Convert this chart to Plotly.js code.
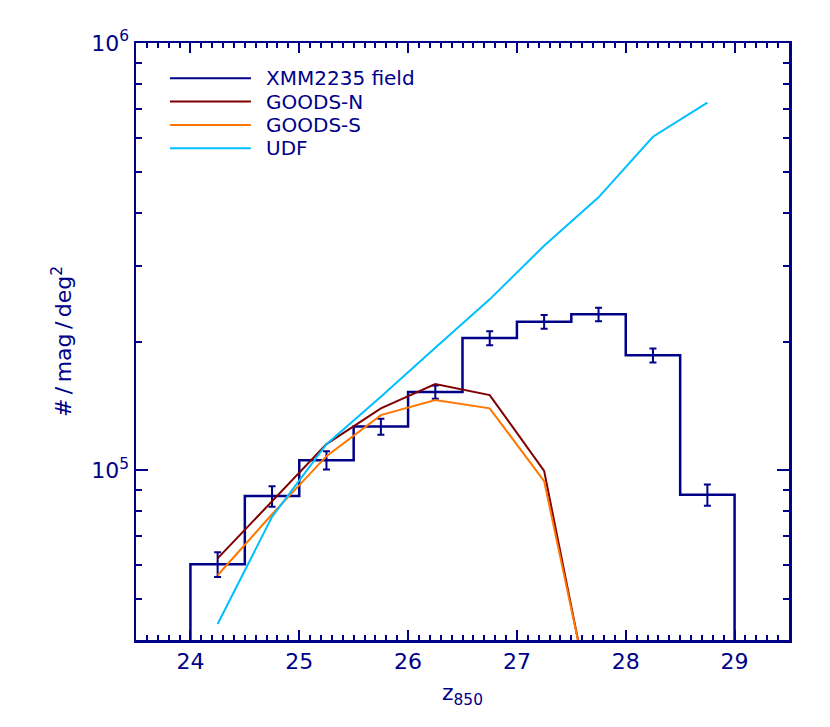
<!DOCTYPE html>
<html>
<head>
<meta charset="utf-8">
<script src="https://cdn.plot.ly/plotly-3.0.1.min.js"></script>
<style>html,body{margin:0;padding:0;background:#fff;}#chart{width:830px;height:727px;}</style>
</head>
<body>
<div id="chart"></div>
<script>
// ---- data ----
var binCenters = [24.25, 24.75, 25.25, 25.75, 26.25, 26.75, 27.25, 27.75, 28.25, 28.75];
var xmmCounts  = [60200, 86900, 105500, 126400, 152300, 203700, 222500, 231500, 185600, 87500];
var xmmErrors  = [4000, 4800, 5200, 5500, 5400, 7800, 8200, 8500, 7100, 5000];

var modelMags  = [24.25, 24.75, 25.25, 25.75, 26.25, 26.75, 27.25, 27.75];
var goodsN     = [62100, 84300, 115000, 139500, 159000, 149800, 99600, 23000];
var goodsS     = [56700, 78800, 107800, 134500, 145800, 139500, 94200, 23700];

var udfMags    = [24.25, 24.75, 25.25, 25.75, 26.25, 26.75, 27.25, 27.75, 28.25, 28.75];
var udf        = [43600, 77700, 115000, 148500, 193400, 251000, 335200, 435100, 603300, 724800];

var seriesNames = ["XMM2235 field", "GOODS-N", "GOODS-S", "UDF"];
var xTickVals = [24, 25, 26, 27, 28, 29];
var yTickVals = [1e5, 1e6];
var yTickText = ["10<sup>5</sup>", "10<sup>6</sup>"];

// ---- styles ----
var NAVY = "#000088", BROWN = "#800000", ORANGE = "#FF7700", SKY = "#00BFFF";
var colors = [NAVY, BROWN, ORANGE, SKY];
var FONT = "DejaVu Sans";
var binHalf = 0.25, floorVal = 1000;

// histogram outline built from bin edges
var hx = [binCenters[0] - binHalf], hy = [floorVal];
binCenters.forEach(function (c, i) { hx.push(c - binHalf); hy.push(xmmCounts[i]); });
hx.push(binCenters[binCenters.length - 1] + binHalf); hy.push(xmmCounts[xmmCounts.length - 1]);
hx.push(binCenters[binCenters.length - 1] + binHalf); hy.push(floorVal);

var traces = [
  {x: hx, y: hy, mode: "lines", line: {shape: "hv", color: NAVY, width: 2.5},
   name: seriesNames[0], showlegend: false, hoverinfo: "skip"},
  {x: binCenters, y: xmmCounts, mode: "markers", marker: {size: 1, color: NAVY, opacity: 0},
   error_y: {type: "data", array: xmmErrors, visible: true, color: NAVY, thickness: 2, width: 3.5},
   name: seriesNames[0] + " errors", showlegend: false},
  {x: modelMags, y: goodsN, mode: "lines", line: {color: BROWN, width: 2}, name: seriesNames[1], showlegend: false},
  {x: modelMags, y: goodsS, mode: "lines", line: {color: ORANGE, width: 2}, name: seriesNames[2], showlegend: false},
  {x: udfMags, y: udf, mode: "lines", line: {color: SKY, width: 2}, name: seriesNames[3], showlegend: false}
];

// manual legend (line samples + labels) in paper coordinates
var legY = [0.941, 0.902, 0.8625, 0.8235];
var shapes = [], annotations = [];
seriesNames.forEach(function (n, i) {
  shapes.push({type: "line", xref: "paper", yref: "paper", x0: 0.052, x1: 0.176, y0: legY[i], y1: legY[i],
               line: {color: colors[i], width: 2}});
  annotations.push({xref: "paper", yref: "paper", x: 0.197, y: legY[i], xanchor: "left", yanchor: "middle",
                    text: n, showarrow: false, borderpad: 0,
                    font: {family: FONT, size: 20, color: NAVY}});
});

var axisCommon = {
  showline: true, linecolor: NAVY, linewidth: 2.5, mirror: "allticks",
  ticks: "inside", tickcolor: NAVY, tickwidth: 2, showgrid: false, zeroline: false,
  tickfont: {family: FONT, size: 22, color: NAVY}
};

var layout = {
  width: 830, height: 727,
  margin: {l: 136, r: 41, t: 43, b: 87},
  paper_bgcolor: "#fff", plot_bgcolor: "#fff",
  showlegend: false,
  xaxis: Object.assign({}, axisCommon, {
    range: [23.5, 29.5], tickmode: "array", tickvals: xTickVals, ticklen: 10,
    minor: {dtick: 0.1, tick0: 0, ticks: "inside", ticklen: 5, tickcolor: NAVY, tickwidth: 2},
    title: {text: "z<sub>850</sub>", font: {family: FONT, size: 22, color: NAVY}, standoff: 12}
  }),
  yaxis: Object.assign({}, axisCommon, {
    type: "log", range: [Math.log10(4e4), 6], tickmode: "array", tickvals: yTickVals, ticktext: yTickText,
    ticklen: 12,
    minor: {tickmode: "array",
            tickvals: [5e4, 6e4, 7e4, 8e4, 9e4, 2e5, 3e5, 4e5, 5e5, 6e5, 7e5, 8e5, 9e5],
            ticks: "inside", ticklen: 6, tickcolor: NAVY, tickwidth: 2},
    title: {text: "#&#8201;/&#8201;mag&#8201;/&#8201;deg<sup>2</sup>", font: {family: FONT, size: 22, color: NAVY}, standoff: 14}
  }),
  shapes: shapes,
  annotations: annotations
};

Plotly.newPlot("chart", traces, layout, {staticPlot: true, displayModeBar: false});
</script>
</body>
</html>
